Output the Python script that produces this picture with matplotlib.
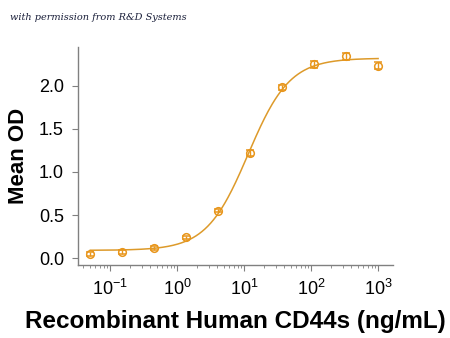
import matplotlib
matplotlib.use("Agg")
import matplotlib.pyplot as plt
import numpy as np

# CD44s binding ELISA, 3-fold dilution series
conc = [0.0508, 0.152, 0.457, 1.37, 4.12, 12.3, 37.0, 111.0, 333.0, 1000.0]
mean_od = [0.046, 0.073, 0.115, 0.24, 0.55, 1.22, 1.98, 2.25, 2.34, 2.23]
od_err = [0.02, 0.02, 0.02, 0.02, 0.02, 0.03, 0.03, 0.04, 0.04, 0.04]
x_ticks = [0.1, 1, 10, 100, 1000]
x_ticklabels = ["$10^{-1}$", "$10^{0}$", "$10^{1}$", "$10^{2}$", "$10^{3}$"]

# four-parameter logistic fit
bottom, top, ec50, hill = 0.09, 2.32, 11.5, 1.4

orange = "#E8961C"

plt.rcParams["mathtext.fontset"] = "custom"
plt.rcParams["mathtext.rm"] = "Liberation Sans"
plt.rcParams["mathtext.it"] = "Liberation Sans:italic"
plt.rcParams["mathtext.bf"] = "Liberation Sans:bold"

fig = plt.figure(figsize=(4.5, 3.38), dpi=100)
ax = fig.add_axes([0.173, 0.216, 0.70, 0.645])

xs = np.logspace(np.log10(conc[0]), np.log10(conc[-1]), 300)
fit = bottom + (top - bottom) / (1 + (ec50 / xs) ** hill)
ax.plot(xs, fit, color="#DD9A2A", lw=1.1)

ax.errorbar(conc, mean_od, yerr=od_err, fmt="o", ms=5.5, mfc="none",
            mec=orange, mew=1.1, ecolor=orange, elinewidth=1.0,
            capsize=3, capthick=1.0)

ax.set_xscale("log")
ax.set_xlim(10 ** -1.48, 10 ** 3.22)
ax.set_ylim(-0.08, 2.45)
ax.set_yticks([0.0, 0.5, 1.0, 1.5, 2.0])
ax.set_yticklabels(["0.0", "0.5", "1.0", "1.5", "2.0"])
ax.set_xticks(x_ticks)
ax.set_xticklabels(x_ticklabels)

for s in ("top", "right"):
    ax.spines[s].set_visible(False)
for s in ("left", "bottom"):
    ax.spines[s].set_color("#808080")
    ax.spines[s].set_linewidth(1.0)

ax.tick_params(axis="both", which="major", colors="#808080", length=4,
               labelcolor="black", labelsize=13, pad=6)
ax.tick_params(axis="x", which="minor", colors="#808080", length=2.5)
for lab in ax.get_xticklabels() + ax.get_yticklabels():
    lab.set_family("Liberation Sans")

ax.set_ylabel("Mean OD", fontsize=16, fontweight="bold",
              family="Liberation Sans", labelpad=7)
ax.set_xlabel("Recombinant Human CD44s (ng/mL)", fontsize=17.5,
              fontweight="bold", family="Liberation Sans", labelpad=8)

fig.text(0.022, 0.94, "with permission from R&D Systems", fontsize=7,
         style="italic", family="DejaVu Serif", color="#1a1f3a")

fig.savefig("out.png", dpi=100)
